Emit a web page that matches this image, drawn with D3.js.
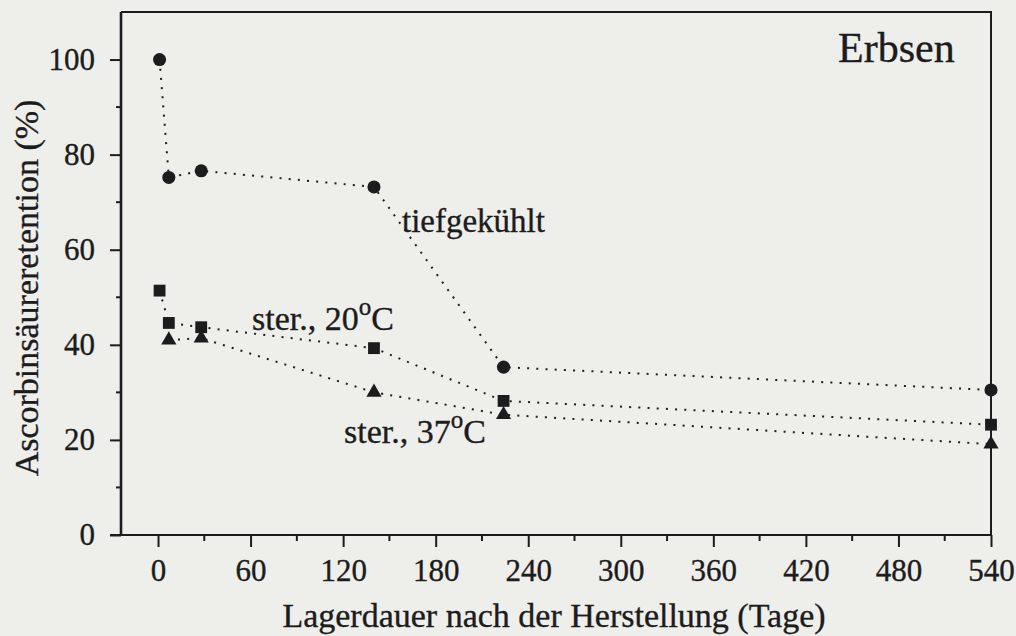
<!DOCTYPE html>
<html>
<head>
<meta charset="utf-8">
<script src="https://cdn.jsdelivr.net/npm/d3@7"></script>
<style>
  html, body { margin: 0; padding: 0; background: #eeeeeb; }
  svg { display: block; }
  text { font-family: "Liberation Serif", "DejaVu Serif", serif; fill: #1c1c1c; stroke: #1c1c1c; stroke-width: 0.35px; }
</style>
</head>
<body>
<script>
// ---- data ----
const xTicks = [0, 60, 120, 180, 240, 300, 360, 420, 480, 540];
const yTicks = [0, 20, 40, 60, 80, 100];
const frozenDays = [1, 7, 28, 140, 224, 540];
const frozenValues = [100, 75.2, 76.6, 73.2, 35.3, 30.5];
const ster20Days = [1, 7, 28, 140, 224, 540];
const ster20Values = [51.4, 44.6, 43.7, 39.3, 28.2, 23.2];
const ster37Days = [7, 28, 140, 224, 540];
const ster37Values = [41.0, 41.4, 30.0, 25.3, 19.1];
const xTitle = "Lagerdauer nach der Herstellung (Tage)";
const yTitle = "Ascorbinsäureretention (%)";
const panelTitle = "Erbsen";

const W = 1016, H = 636;
const m = { left: 121, right: 25, top: 12, bottom: 101 };
const svg = d3.select("body").append("svg").attr("width", W).attr("height", H);

const x = d3.scaleLinear().domain([-24, 540]).range([m.left, W - m.right]);
const y = d3.scaleLinear().domain([0, 110]).range([H - m.bottom, m.top]);

const ink = "#1c1c1c";

// frame (top and right)
svg.append("path")
  .attr("d", `M${x(-24)},${y(110)} H${x(540)} V${y(0)}`)
  .attr("fill", "none").attr("stroke", ink).attr("stroke-width", 2);

// x axis
const xAxis = svg.append("g").attr("transform", `translate(0,${y(0)})`)
  .call(d3.axisBottom(x).tickValues(xTicks).tickSize(12).tickPadding(12).tickFormat(d3.format("d")));
xAxis.select(".domain").remove();
xAxis.selectAll(".tick line").attr("stroke", ink).attr("stroke-width", 2);
xAxis.selectAll("text").attr("font-size", 31).attr("fill", ink);
// x minor ticks
svg.append("g").selectAll("line")
  .data(d3.range(30, 540, 60)).join("line")
  .attr("x1", d => x(d)).attr("x2", d => x(d))
  .attr("y1", y(0)).attr("y2", y(0) + 6)
  .attr("stroke", ink).attr("stroke-width", 2);
svg.append("line")
  .attr("x1", m.left - 11).attr("x2", x(540))
  .attr("y1", y(0)).attr("y2", y(0))
  .attr("stroke", ink).attr("stroke-width", 2.2);

// y axis
const yAxis = svg.append("g").attr("transform", `translate(${m.left},0)`)
  .call(d3.axisLeft(y).tickValues(yTicks).tickSize(11).tickPadding(15).tickFormat(d3.format("d")));
yAxis.select(".domain").remove();
yAxis.selectAll(".tick line").attr("stroke", ink).attr("stroke-width", 2);
yAxis.selectAll("text").attr("font-size", 31).attr("fill", ink);
svg.append("g").selectAll("line")
  .data(d3.range(10, 110, 20)).join("line")
  .attr("x1", m.left - 5).attr("x2", m.left)
  .attr("y1", d => y(d)).attr("y2", d => y(d))
  .attr("stroke", ink).attr("stroke-width", 2);
svg.append("line")
  .attr("x1", m.left).attr("x2", m.left)
  .attr("y1", y(110)).attr("y2", y(0))
  .attr("stroke", ink).attr("stroke-width", 2.6);

// titles
svg.append("text").attr("x", 554).attr("y", 627).attr("text-anchor", "middle")
  .attr("font-size", 34).text(xTitle);
svg.append("text").attr("transform", `translate(38,288) rotate(-90)`).attr("text-anchor", "middle")
  .attr("font-size", 34).text(yTitle);
svg.append("text").attr("x", 838).attr("y", 62).attr("font-size", 42).text(panelTitle);

// series
const line = d3.line().x(d => x(d[0])).y(d => y(d[1]));
const series = [
  { days: frozenDays, vals: frozenValues, sym: d3.symbolCircle, size: 135 },
  { days: ster20Days, vals: ster20Values, sym: d3.symbolSquare, size: 140 },
  { days: ster37Days, vals: ster37Values, sym: d3.symbolTriangle, size: 100 }
];
series.forEach(s => {
  const pts = s.days.map((d, i) => [d, s.vals[i]]);
  svg.append("path").attr("d", line(pts)).attr("fill", "none")
    .attr("stroke", ink).attr("stroke-width", 2).attr("stroke-dasharray", "2 7.2");
  svg.append("g").selectAll("path").data(pts).join("path")
    .attr("transform", d => `translate(${x(d[0])},${y(d[1])})`)
    .attr("d", d3.symbol().type(s.sym).size(s.size))
    .attr("fill", ink);
});

// annotations
svg.append("text").attr("x", 402).attr("y", 232).attr("font-size", 33).text("tiefgekühlt");
function degLabel(px, py, num) {
  const t = svg.append("text").attr("x", px).attr("y", py).attr("font-size", 34);
  t.append("tspan").text("ster., " + num);
  t.append("tspan").attr("font-size", 25).attr("dy", -15).text("o");
  t.append("tspan").attr("dy", 15).text("C");
}
degLabel(252, 330, "20");
degLabel(344, 443, "37");
</script>
</body>
</html>
